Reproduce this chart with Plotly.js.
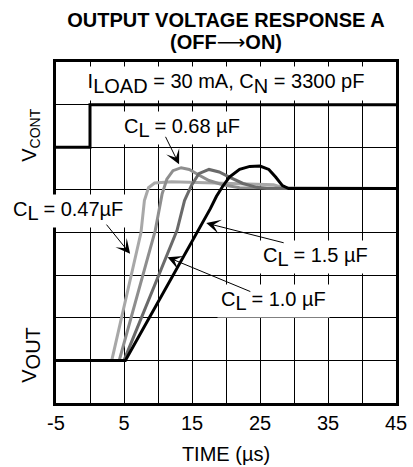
<!DOCTYPE html>
<html>
<head>
<meta charset="utf-8">
<script src="https://cdn.plot.ly/plotly-3.0.1.min.js"></script>
<style>html,body{margin:0;padding:0;background:#fff;}</style>
</head>
<body>
<div id="chart" style="width:413px;height:467px;"></div>
<script>
// Time axis (µs) and output voltage traces (in grid divisions, VOUT low = 1, high = 5)
const tLight = [-5, 3.2, 7.5, 8.0, 8.6, 9.5, 12, 16, 22, 27, 28.3, 29.3, 45];
const vLight = [1, 1, 4.0, 4.75, 5.05, 5.16, 5.19, 5.17, 5.14, 5.12, 5.06, 5.03, 5.03];

const tMid = [-5, 4.3, 9.6, 10.6, 11.3, 12.2, 13.4, 14.6, 16, 17.5, 19.5, 22, 45];
const vMid = [1, 1, 4.05, 4.9, 5.25, 5.45, 5.52, 5.48, 5.35, 5.22, 5.12, 5.05, 5.03];

const tDark = [-5, 5.0, 12.8, 13.9, 14.9, 16, 17.5, 19, 20.5, 22.5, 24.5, 26, 45];
const vDark = [1, 1, 4.05, 4.75, 5.1, 5.38, 5.48, 5.42, 5.3, 5.15, 5.06, 5.03, 5.03];

const tBlack = [-5, 5.2, 17.7, 18.6, 19.5, 20.5, 22, 23.5, 25, 26.3, 27.3, 28.3, 29.2, 45];
const vBlack = [1, 1, 4.56, 4.85, 5.08, 5.3, 5.48, 5.55, 5.56, 5.48, 5.3, 5.1, 5.03, 5.03];

// Control voltage step
const tCont = [-5, 0, 0, 45];
const vCont = [6, 6, 7, 7];

const xTickVals = [-5, 5, 15, 25, 35, 45];
const xTickText = ['-5', '5', '15', '25', '35', '45'];

const FONT = "Liberation Sans, Arial, Helvetica, sans-serif";
const sub = s => '<sub><span style="font-size:20px">' + s + '</span></sub>';

const traces = [
  {x: tLight, y: vLight, mode: 'lines', line: {color: '#a8a8a8', width: 3}},
  {x: tMid, y: vMid, mode: 'lines', line: {color: '#8e8e8e', width: 3}},
  {x: tDark, y: vDark, mode: 'lines', line: {color: '#6a6a6a', width: 3}},
  {x: tBlack, y: vBlack, mode: 'lines', line: {color: '#000000', width: 3}},
  {x: tCont, y: vCont, mode: 'lines', line: {color: '#000000', width: 3}}
];

function arrow(tx, ty, ax, ay) {
  return {x: tx, y: ty, xref: 'x', yref: 'y', ax: ax, ay: ay, axref: 'x', ayref: 'y',
    text: '', showarrow: true, arrowhead: 3, arrowsize: 2.4, arrowwidth: 1, arrowcolor: '#000'};
}
function label(x, y, txt) {
  return {x: x, y: y, xref: 'x', yref: 'y', text: txt, showarrow: false,
    xanchor: 'center', yanchor: 'middle', bgcolor: '#fff', borderpad: 3,
    font: {family: FONT, size: 20, color: '#000'}};
}

const annotations = [
  {x: 20, y: 7.5, xref: 'x', yref: 'y', showarrow: false, width: 334, height: 31,
   bgcolor: '#fff', xanchor: 'center', yanchor: 'middle',
   text: 'I' + sub('LOAD') + ' = 30 mA, C' + sub('N') + ' = 3300 pF',
   font: {family: FONT, size: 20, color: '#000'}},
  label(13.6, 6.45, 'C' + sub('L') + ' = 0.68 µF'),
  label(-3.2, 4.5, 'C' + sub('L') + ' = 0.47µF'),
  label(33.1, 3.42, 'C' + sub('L') + ' = 1.5 µF'),
  label(27.0, 2.4, 'C' + sub('L') + ' = 1.0 µF'),
  arrow(13.1, 5.6, 11.0, 6.28),
  arrow(5.9, 3.5, 2.25, 4.22),
  arrow(17.1, 4.22, 28.7, 3.75),
  arrow(11.4, 3.42, 23.8, 2.6),
  {x: -0.074, y: 0.786, xref: 'paper', yref: 'paper', showarrow: false, textangle: -90,
   xanchor: 'center', yanchor: 'middle',
   text: 'V<sub>CONT</sub>', font: {family: FONT, size: 20, color: '#000'}},
  {x: -0.074, y: 0.141, xref: 'paper', yref: 'paper', showarrow: false, textangle: -90,
   xanchor: 'center', yanchor: 'middle',
   text: 'V' + sub('OUT'), font: {family: FONT, size: 20, color: '#000'}},
  {x: 0.5, y: (403 - 41.5) / 341, xref: 'paper', yref: 'paper', showarrow: false,
   xanchor: 'center', yanchor: 'middle',
   text: '<b>(OFF<span style="font-family:DejaVu Sans;font-weight:normal">⟶</span>ON)</b>',
   font: {family: FONT, size: 20, color: '#000'}}
];

const layout = {
  width: 413, height: 467,
  margin: {l: 56, r: 17, t: 62, b: 64},
  paper_bgcolor: '#fff', plot_bgcolor: '#fff',
  showlegend: false,
  title: {text: '<b>OUTPUT VOLTAGE RESPONSE A</b>', x: 0.5, xref: 'paper',
    y: 1 - 19.5 / 467, yref: 'container', yanchor: 'middle',
    font: {family: FONT, size: 20, color: '#000'}},
  xaxis: {
    range: [-5, 45], tickmode: 'array', tickvals: xTickVals, ticktext: xTickText,
    showgrid: true, gridcolor: '#000', gridwidth: 1,
    minor: {dtick: 5, tick0: -5, showgrid: true, gridcolor: '#000', gridwidth: 1},
    zeroline: false, showline: true, mirror: true, linecolor: '#000', linewidth: 3,
    ticks: '', tickfont: {family: FONT, size: 20, color: '#000'},
    title: {text: 'TIME (µs)', font: {family: FONT, size: 20, color: '#000'}, standoff: 14}
  },
  yaxis: {
    range: [0, 8], dtick: 1, tick0: 0,
    showgrid: true, gridcolor: '#000', gridwidth: 1,
    zeroline: false, showline: true, mirror: true, linecolor: '#000', linewidth: 3,
    ticks: '', showticklabels: false
  },
  annotations: annotations
};

Plotly.newPlot('chart', traces, layout, {displayModeBar: false, staticPlot: true});
</script>
</body>
</html>
